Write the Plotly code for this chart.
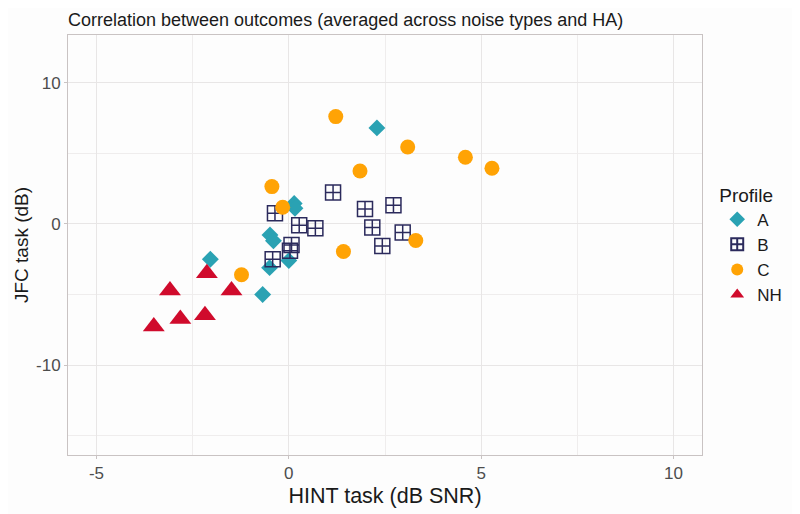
import plotly.graph_objects as go

# Data
a_x = [2.29, 0.14, 0.16, -0.49, -0.40, 0.00, -0.50, -2.04, -0.68]
a_y = [6.80, 1.45, 1.10, -0.78, -1.20, -2.60, -3.10, -2.50, -5.00]

b_x = [1.15, -0.36, 0.27, 0.69, 0.07, 0.03, -0.42, 1.98, 2.72, 2.17, 2.96, 2.43]
b_y = [2.22, 0.76, -0.09, -0.30, -1.50, -1.90, -2.50, 1.06, 1.32, -0.26, -0.61, -1.56]

c_x = [1.22, 3.09, 4.59, 5.28, 1.85, -0.44, -0.16, 1.42, 3.30, -1.23]
c_y = [7.60, 5.45, 4.72, 3.94, 3.75, 2.64, 1.18, -1.96, -1.18, -3.60]

nh_x = [-2.13, -3.09, -1.49, -2.82, -2.18, -3.51]
nh_y = [-3.50, -4.72, -4.72, -6.73, -6.47, -7.27]

x_ticks = [-5, 0, 5, 10]
x_labels = ["-5", "0", "5", "10"]
y_ticks = [-10, 0, 10]
y_labels = ["-10", "0", "10"]

font = "Liberation Sans, Arial, sans-serif"

# page has an 8px body margin; compensate so the plot lands where the reference has it
W, H = 792, 506

fig = go.Figure()
fig.add_trace(go.Scatter(x=a_x, y=a_y, mode="markers", name="A",
                         marker=dict(symbol="diamond", size=13, color="#2AA2B3")))
fig.add_trace(go.Scatter(x=b_x, y=b_y, mode="markers", name="B",
                         marker=dict(symbol="square-cross-open", size=15, color="#2B2A5C",
                                     line=dict(width=1.5, color="#2B2A5C"))))
fig.add_trace(go.Scatter(x=c_x, y=c_y, mode="markers", name="C",
                         marker=dict(symbol="circle", size=15, color="#FFA305")))
fig.add_trace(go.Scatter(x=nh_x, y=nh_y, mode="markers", name="NH",
                         marker=dict(symbol="triangle-up", size=19, color="#D00B2C")))

axis_common = dict(
    showline=True, linecolor="#c9c3c3", linewidth=1, mirror=True,
    showgrid=True, gridcolor="#e8e6e6", gridwidth=1,
    zeroline=False, ticks="outside", ticklen=3, tickcolor="#c9c3c3",
    tickfont=dict(family=font, size=17, color="#4d4d4d"),
    automargin=False,
)

fig.update_layout(
    width=W, height=H,
    paper_bgcolor="#fdfdfd", plot_bgcolor="#fdfdfd",
    margin=dict(l=60, r=98, t=27, b=59),
    title=dict(text="Correlation between outcomes (averaged across noise types and HA)",
               x=60 / W, xanchor="left", y=1 - 12 / H, yanchor="middle",
               font=dict(family=font, size=18, color="#1a1a1a")),
    xaxis=dict(range=[-5.74, 10.74], tickvals=x_ticks, ticktext=x_labels,
               minor=dict(dtick=2.5, tick0=0, showgrid=True, gridcolor="#efeded", ticks=""),
               title=dict(text="HINT task (dB SNR)", font=dict(family=font, size=21.5, color="#1a1a1a"),
                          standoff=5),
               **axis_common),
    yaxis=dict(range=[-16.37, 13.38], tickvals=y_ticks, ticktext=y_labels,
               minor=dict(dtick=5, tick0=0, showgrid=True, gridcolor="#efeded", ticks=""),
               title=dict(text="JFC task (dB)", font=dict(family=font, size=19, color="#1a1a1a"),
                          standoff=2),
               **axis_common),
    legend=dict(title=dict(text="Profile", font=dict(family=font, size=19, color="#1a1a1a")),
                font=dict(family=font, size=17, color="#1a1a1a"),
                x=1.024, xanchor="left", y=0.5, yanchor="middle",
                tracegroupgap=0, itemsizing="constant",
                bgcolor="rgba(0,0,0,0)"),
)

fig.write_html("out.html")
